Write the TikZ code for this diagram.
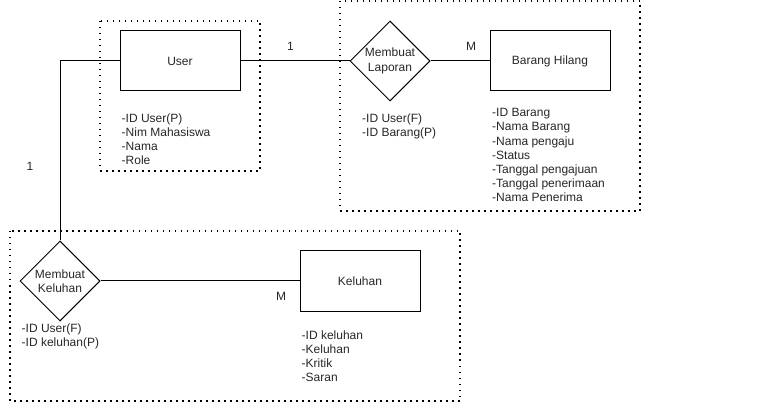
\documentclass[tikz,border=0pt]{standalone}
\usepackage{fontspec}
\setmainfont{Liberation Sans}
\usetikzlibrary{shapes.geometric}

\tikzset{
  entity/.style={draw, line width=1pt, minimum width=120pt, minimum height=60pt, inner sep=0pt},
  relation/.style={draw, diamond, line width=1pt, minimum width=80pt, minimum height=80pt, inner sep=0pt, align=center},
  attrs/.style={anchor=base west, align=left, inner sep=0pt},
  group/.style={line width=1.5pt, dash pattern=on 1.5pt off 4.5pt},
  link/.style={line width=1pt},
}

\begin{document}
\begin{tikzpicture}[x=1pt, y=-1pt, font=\fontsize{12}{14.2}\selectfont, text=black!85]
    \useasboundingbox (0,0) rectangle (760,403);

    % Groups
    \draw[group] (100,21) rectangle (260,171);
    \draw[group] (340,1) rectangle (640,211);
    \draw[group] (10,231) rectangle (460,401);

    % Entities
    \node[entity] (user) at (180,61) {User};
    \node[entity] (barang) at (550,61) {Barang Hilang};
    \node[entity] (keluhan) at (360,281) {Keluhan};

    % Relations
    \node[relation] (laporan) at (390,61) {Membuat\\Laporan};
    \node[relation] (mkeluhan) at (60,281) {Membuat\\Keluhan};

    % Connectors
    \draw[link] (user.east) -- (laporan.west);
    \draw[link] (laporan.east) -- (barang.west);
    \draw[link] (user.west) -| (mkeluhan.north);
    \draw[link] (mkeluhan.east) -- (keluhan.west);

    % Cardinalities
    \node (c1) at (290.5,46) {1};
    \node (c2) at (471,46) {M};
    \node (c3) at (30,166) {1};
    \node (c4) at (281,296) {M};

    % Attributes (placed at the baseline of their last line)
    \node[attrs] (userattr) at (121.5,165) {-ID User(P)\\-Nim Mahasiswa\\-Nama\\-Role};
    \node[attrs] (laporanattr) at (362,136.5) {-ID User(F)\\-ID Barang(P)};
    \node[attrs] (barangattr) at (492,202) {-ID Barang\\-Nama Barang\\-Nama pengaju\\-Status\\-Tanggal pengajuan\\-Tanggal penerimaan\\-Nama Penerima};
    \node[attrs] (mkeluhanattr) at (21.5,346.5) {-ID User(F)\\-ID keluhan(P)};
    \node[attrs] (keluhanattr) at (301.5,381.7) {-ID keluhan\\-Keluhan\\-Kritik\\-Saran};
\end{tikzpicture}
\end{document}
